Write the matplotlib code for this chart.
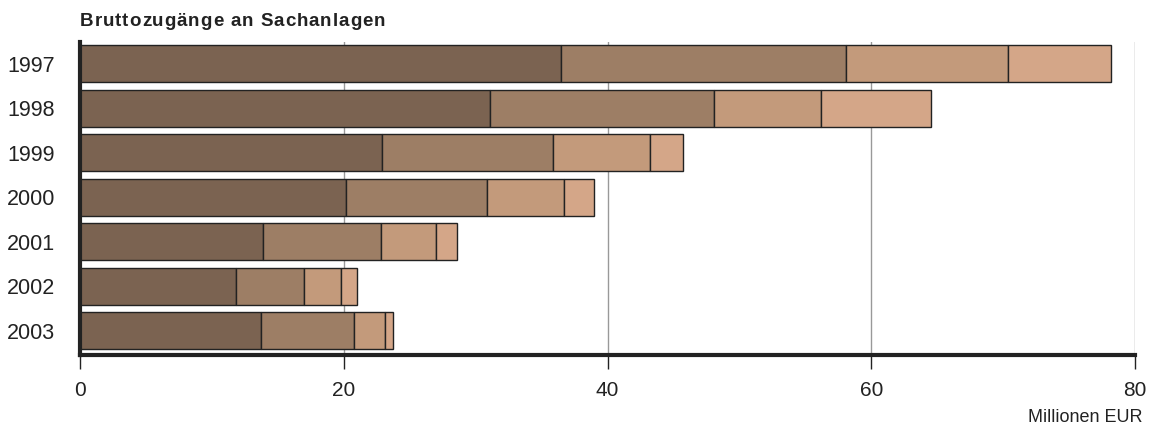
import matplotlib
matplotlib.use("Agg")
import matplotlib.pyplot as plt
import numpy as np

plt.rcParams['font.family'] = ['Liberation Sans', 'DejaVu Sans']

years = ["1997", "1998", "1999", "2000", "2001", "2002", "2003"]
# cumulative segment ends
cum1 = [36.5, 31.1, 22.9, 20.2, 13.9, 11.8, 13.7]
cum2 = [58.1, 48.1, 35.9, 30.9, 22.8, 17.0, 20.8]
cum3 = [70.4, 56.2, 43.2, 36.7, 27.0, 19.8, 23.1]
cum4 = [78.2, 64.5, 45.7, 39.0, 28.6, 21.0, 23.7]
colors = ["#7B6351", "#9D7E65", "#C39A7B", "#D4A688"]
xticks = [0, 20, 40, 60, 80]

fig = plt.figure(figsize=(11.54, 4.28), dpi=100)
ax = fig.add_axes([80/1154, 1-355/428, (1135-80)/1154, (355-42)/428])

y = np.arange(len(years))
cums = [cum1, cum2, cum3, cum4]
prev = np.zeros(len(years))
for c, col in zip(cums, colors):
    c = np.array(c)
    ax.barh(y, c - prev, left=prev, height=0.83, color=col,
            edgecolor="#222222", linewidth=1.0, zorder=3)
    prev = c

ax.set_xlim(0, 80)
ax.set_ylim(6.54, -0.49)
ax.set_xticks(xticks)
ax.set_xticklabels([str(v) for v in xticks], fontsize=15, color="#222222")
ax.set_yticks(y)
ax.set_yticklabels(years, fontsize=15.5, color="#222222")
ax.tick_params(axis='y', length=0, pad=18)
ax.tick_params(axis='x', length=10, width=1, color="#222222", pad=9)
for v in xticks[1:]:
    ax.axvline(v, color="#999999", linewidth=1, zorder=1)
for s in ["top", "right"]:
    ax.spines[s].set_visible(False)
ax.spines["left"].set_linewidth(3)
ax.spines["bottom"].set_linewidth(3)
ax.spines["left"].set_color("#222222")
ax.spines["bottom"].set_color("#222222")
ax.spines["left"].set_zorder(4)
ax.spines["bottom"].set_zorder(4)

# title with slight letter spacing
title = "Bruttozugänge an Sachanlagen"
renderer = fig.canvas.get_renderer()
tsize = 13.5
probe1 = fig.text(0, 0, "a a", fontsize=tsize, fontweight="bold")
probe2 = fig.text(0, 0, "aa", fontsize=tsize, fontweight="bold")
space_w = (probe1.get_window_extent(renderer=renderer).width
           - probe2.get_window_extent(renderer=renderer).width)
probe1.remove()
probe2.remove()
xpos = 80
spacing = 0.95
for ch in title:
    if ch == " ":
        xpos += space_w + spacing
        continue
    t = fig.text(xpos/1154, 1-21/428, ch, fontsize=tsize, fontweight="bold",
                 color="#222222", va="center", ha="left")
    xpos += t.get_window_extent(renderer=renderer).width + spacing

fig.text(1143/1154, 1-417/428, "Millionen EUR", fontsize=13,
         color="#222222", va="center", ha="right")

fig.savefig("out.png", dpi=100)
